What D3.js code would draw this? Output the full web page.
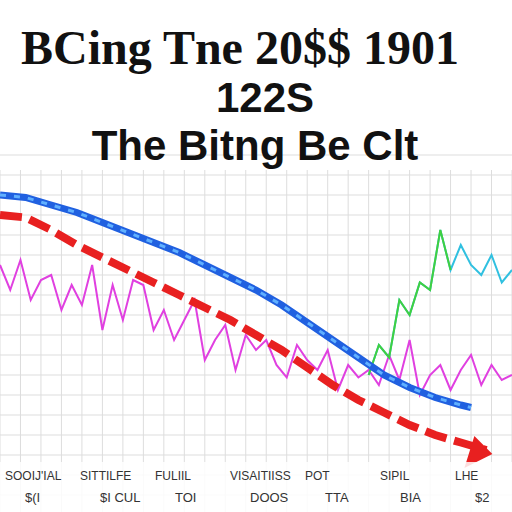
<!DOCTYPE html><html><head><meta charset="utf-8"><script src="https://cdn.jsdelivr.net/npm/d3@7"></script>
<style>body{margin:0;background:#fff}</style></head><body><svg id="c" width="512" height="512"></svg><script>
const titleLines=["BCing Tne 20$$ 1901","122S","The Bitng Be Clt"];
const blueX=[0,5,10,15,20,25,30,35,40,45,50,55,60,65,70,75,80,85,90,92];
const blueY=[100,99,96,93,89,85,81,77,72,67,62,56,49,42,35,28,23,19,16,15];
const redX=[0,5,10,15,20,25,30,35,40,45,50,55,60,65,70,75,80,85,90,95];
const redY=[92,91,86,80,75,70,65,60,55,50,44,38,31,24,18,13,8,4,1,-2];
const magX=[0,2,4,6,8,10,12,14,16,18,20,22,24,26,28,30,32,34,36,38,40,42,44,46,48,50,52,54,56,58,60,62,64,66,68,70,72,74,76,78,80,82,84,86,88,90,92,94,96,98,100];
const magY=[72,62,74,58,66,68,54,64,56,72,46,64,50,66,64,46,54,42,50,58,34,42,48,30,44,38,42,32,27,40,34,30,38,22,32,27,30,24,36,26,42,20,28,32,22,30,36,24,32,26,28];
const grnX=[72,74,76,78,80,82,84,86,88,90,92,94,96,98,100];
const grnY=[28,40,35,58,52,65,62,86,70,80,72,68,76,65,70];
const xTicks=["SOOIJ'IAL","SITTILFE","FULIIL","VISAITIISS","POT","SIPIL","LHE"];
const xTicks2=["$(I","$I CUL","TOI","DOOS","TTA","BIA","$2"];
const svg=d3.select("#c");
const x=d3.scaleLinear().domain([0,100]).range([0,512]);
const y=d3.scaleLinear().domain([0,100]).range([445,195]);
const g=svg.append("g");
g.selectAll(".v").data(d3.range(0,101,4)).join("line").attr("x1",d=>x(d)).attr("x2",d=>x(d)).attr("y1",170).attr("y2",512).attr("stroke","#ddd");
g.selectAll(".h").data(d3.range(-20,120,8)).join("line").attr("x1",0).attr("x2",512).attr("y1",d=>y(d)).attr("y2",d=>y(d)).attr("stroke","#ddd");
const ln=d3.line().x(d=>x(d[0])).y(d=>y(d[1]));
svg.append("path").datum(magX.map((v,i)=>[v,magY[i]])).attr("d",ln).attr("fill","none").attr("stroke","#e040e0").attr("stroke-width",2);
svg.append("path").datum(grnX.map((v,i)=>[v,grnY[i]])).attr("d",ln).attr("fill","none").attr("stroke","#30c0e0").attr("stroke-width",2);
svg.append("path").datum(grnX.slice(0,9).map((v,i)=>[v,grnY[i]])).attr("d",ln).attr("fill","none").attr("stroke","#40d040").attr("stroke-width",2);
svg.append("path").datum(blueX.map((v,i)=>[v,blueY[i]])).attr("d",ln).attr("fill","none").attr("stroke","#2060e0").attr("stroke-width",7);
svg.append("path").datum(blueX.map((v,i)=>[v,blueY[i]])).attr("d",ln).attr("fill","none").attr("stroke","#60b0ff").attr("stroke-width",3).attr("stroke-dasharray","6 8");
svg.append("path").datum(redX.map((v,i)=>[v,redY[i]])).attr("d",ln).attr("fill","none").attr("stroke","#e82020").attr("stroke-width",8).attr("stroke-dasharray","22 8");
const ex=x(redX[redX.length-1]),ey=y(redY[redY.length-1]);
svg.append("path").attr("d",`M${ex+6},${ey+4}L${ex-22},${ey+18}L${ex-12},${ey-14}Z`).attr("fill","#e82020");
const tf=[["Liberation Serif",48,"bold",64,240],["Liberation Sans",42,"bold",112,265],["Liberation Sans",42,"bold",160,255]];
titleLines.forEach((t,i)=>svg.append("text").text(t).attr("x",tf[i][4]).attr("y",tf[i][3]).attr("text-anchor","middle").attr("font-family",tf[i][0]).attr("font-size",tf[i][1]).attr("font-weight",tf[i][2]).attr("fill","#111"));
svg.append("rect").attr("x",0).attr("y",462).attr("width",512).attr("height",50).attr("fill","#fff").attr("opacity",0.85);
xTicks.forEach((t,i)=>svg.append("text").text(t).attr("x",5+i*75).attr("y",480).attr("font-family","Liberation Sans").attr("font-size",12).attr("fill","#333"));
xTicks2.forEach((t,i)=>svg.append("text").text(t).attr("x",25+i*75).attr("y",502).attr("font-family","Liberation Sans").attr("font-size",13).attr("fill","#333"));
</script></body></html>
